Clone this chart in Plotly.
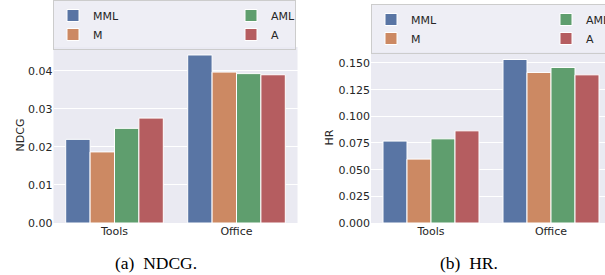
import plotly.graph_objects as go

# ---- data ----
categories = ["Tools", "Office"]
methods = ["MML", "M", "AML", "A"]
ndcg_mml = [0.0220, 0.0442]
ndcg_m = [0.0187, 0.0397]
ndcg_aml = [0.0249, 0.0393]
ndcg_a = [0.0276, 0.0390]
hr_mml = [0.0768, 0.1533]
hr_m = [0.0599, 0.1411]
hr_aml = [0.0789, 0.1458]
hr_a = [0.0864, 0.1389]
ndcg_ticks = [0.00, 0.01, 0.02, 0.03, 0.04]
hr_ticks = [0.000, 0.025, 0.050, 0.075, 0.100, 0.125, 0.150]

colors = ["#5975a4", "#cc8963", "#5f9e6e", "#b55d60"]
W, H = 605, 275


def fx(x):
    return x / W


def fy(y):
    return 1 - y / H


fig = go.Figure()
ndcg = [ndcg_mml, ndcg_m, ndcg_aml, ndcg_a]
hr = [hr_mml, hr_m, hr_aml, hr_a]
col_w_left = [133, 133, 19, 19]
col_w_right = [130, 130, 40, 40]
groups = ["g1", "g1", "g2", "g2"]

for i, m in enumerate(methods):
    fig.add_trace(go.Bar(
        x=categories, y=ndcg[i], name=m, marker_color=colors[i],
        marker_line=dict(color="white", width=1),
        xaxis="x", yaxis="y", legend="legend",
        legendgroup="L" + groups[i], legendwidth=col_w_left[i],
    ))
for i, m in enumerate(methods):
    fig.add_trace(go.Bar(
        x=categories, y=hr[i], name=m, marker_color=colors[i],
        marker_line=dict(color="white", width=1),
        xaxis="x2", yaxis="y2", legend="legend2",
        legendgroup="R" + groups[i], legendwidth=col_w_right[i],
    ))

tick_font = dict(family="DejaVu Sans", size=11, color="#262626")
ax_common = dict(showline=False, ticks="", zeroline=False, automargin=False,
                 tickfont=tick_font, gridcolor="white", gridwidth=1)

legend_common = dict(
    orientation="h", traceorder="grouped", xanchor="left", yanchor="top",
    bgcolor="rgba(234,234,242,0.8)", bordercolor="#cccccc", borderwidth=1,
    font=dict(family="DejaVu Sans", size=11, color="#262626"),
    tracegroupgap=0, itemclick=False, itemdoubleclick=False,
)

fig.update_layout(
    width=W, height=H, autosize=False,
    margin=dict(l=0, r=0, t=0, b=0, autoexpand=False),
    paper_bgcolor="white", plot_bgcolor="#eaeaf2",
    barmode="group", bargap=0.2, bargroupgap=0,
    xaxis=dict(domain=[fx(53.5), fx(297.5)], range=[-0.5, 1.5], showgrid=False,
               anchor="y", **ax_common),
    yaxis=dict(domain=[fy(223), fy(47)], range=[0, 0.0463], tickvals=ndcg_ticks,
               tickformat=".2f", anchor="x",
               title=dict(text="NDCG", standoff=1, font=tick_font), **ax_common),
    xaxis2=dict(domain=[fx(371), 1], range=[-0.5, -0.5 + (W - 371) / 120.0],
                showgrid=False, anchor="y2", **ax_common),
    yaxis2=dict(domain=[fy(223), fy(52)], range=[0, 0.1603], tickvals=hr_ticks,
                tickformat=".3f", anchor="x2",
                title=dict(text="HR", standoff=2, font=tick_font), **ax_common),
    legend=dict(x=fx(53), y=fy(0), **legend_common),
    legend2=dict(x=fx(371), y=fy(4), **legend_common),
    showlegend=True,
)

cap_font = dict(family="Liberation Serif", size=17.5, color="black")
fig.add_annotation(text="(a)\u00a0\u00a0NDCG.", x=fx(156), y=fy(263), xref="paper",
                   yref="paper", showarrow=False, font=cap_font,
                   xanchor="center", yanchor="middle")
fig.add_annotation(text="(b)\u00a0\u00a0HR.", x=fx(468.5), y=fy(263), xref="paper",
                   yref="paper", showarrow=False, font=cap_font,
                   xanchor="center", yanchor="middle")

fig.write_html("out.html",
               config={"displayModeBar": False},
               post_script="document.body.style.margin='0px';"
                           "document.body.style.overflow='hidden';")
